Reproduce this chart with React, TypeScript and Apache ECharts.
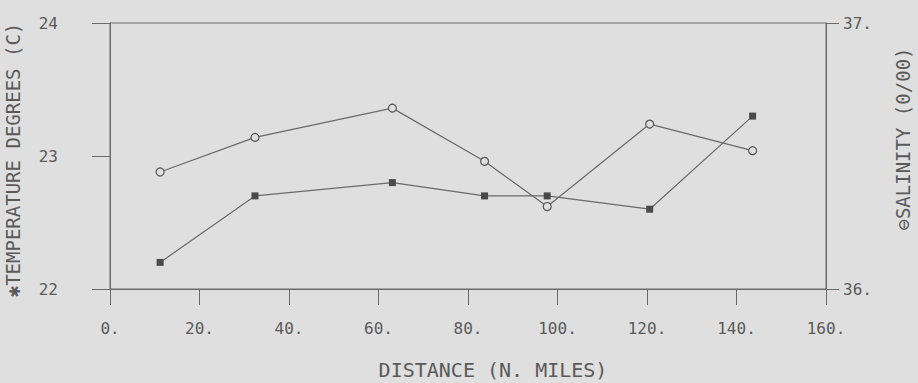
import React, { useEffect, useRef } from "react";
import * as echarts from "echarts";

const distance = [11.2, 32.4, 63.1, 83.7, 97.7, 120.6, 143.6];
const temperature = [22.2, 22.7, 22.8, 22.7, 22.7, 22.6, 23.3];
const salinity = [36.44, 36.57, 36.68, 36.48, 36.31, 36.62, 36.52];

const xTitle = "DISTANCE (N. MILES)";
const leftTitle = "✱TEMPERATURE DEGREES (C)";
const rightTitle = "⊖SALINITY (0/00)";

const FONT = "DejaVu Sans Mono";
const INK = "#5a5a5a";
const LINE = "#6a6a6a";
const BG = "#dfdfdf";

export default function App() {
  const ref = useRef<HTMLDivElement>(null);
  useEffect(() => {
    if (!ref.current) return;
    const chart = echarts.init(ref.current, undefined, { renderer: "svg" });
    const axisLabel = { fontFamily: FONT, fontSize: 16, color: INK };
    chart.setOption({
      animation: false,
      backgroundColor: BG,
      grid: {
        left: 110,
        right: 92,
        top: 23,
        bottom: 94,
        show: true,
        borderColor: LINE,
        borderWidth: 1,
        backgroundColor: "transparent",
      },
      xAxis: {
        type: "value",
        min: 0,
        max: 160,
        interval: 20,
        axisLine: { show: true, lineStyle: { color: LINE } },
        axisTick: { show: true, inside: false, length: 16, lineStyle: { color: LINE } },
        axisLabel: { ...axisLabel, margin: 31, formatter: (v: number) => `${v}.` },
        splitLine: { show: false },
      },
      yAxis: [
        {
          type: "value",
          position: "left",
          min: 22,
          max: 24,
          interval: 1,
          axisLine: { show: true, lineStyle: { color: LINE } },
          axisTick: { show: true, inside: false, length: 18, lineStyle: { color: LINE } },
          axisLabel: { ...axisLabel, margin: 52, formatter: (v: number) => `${v}`, padding: [0, 0, 8, 0] },
          splitLine: { show: false },
        },
        {
          type: "value",
          position: "right",
          min: 36,
          max: 37,
          interval: 1,
          axisLine: { show: true, lineStyle: { color: LINE } },
          axisTick: { show: true, inside: false, length: 13, lineStyle: { color: LINE } },
          axisLabel: { ...axisLabel, margin: 17, formatter: (v: number) => `${v}.`, padding: [0, 0, 4, 0] },
          splitLine: { show: false },
        },
      ],
      series: [
        {
          name: "Temperature",
          type: "line",
          yAxisIndex: 0,
          data: distance.map((d, i) => [d, temperature[i]]),
          symbol: "rect",
          symbolSize: 7,
          itemStyle: { color: "#4a4a4a" },
          lineStyle: { color: LINE, width: 1.2 },
        },
        {
          name: "Salinity",
          type: "line",
          yAxisIndex: 1,
          data: distance.map((d, i) => [d, salinity[i]]),
          symbol: "circle",
          symbolSize: 8,
          itemStyle: { color: BG, borderColor: "#555", borderWidth: 1.2 },
          lineStyle: { color: LINE, width: 1.2 },
        },
      ],
      graphic: [
        {
          type: "text",
          x: 493,
          y: 370,
          style: { text: xTitle, fontFamily: FONT, fontSize: 20, fill: INK, align: "center", verticalAlign: "middle" },
        },
        {
          type: "text",
          x: 13,
          y: 160,
          rotation: Math.PI / 2,
          style: { text: leftTitle, fontFamily: FONT, fontSize: 19, fill: INK, align: "center", verticalAlign: "middle" },
        },
        {
          type: "text",
          x: 903,
          y: 139,
          rotation: Math.PI / 2,
          style: { text: rightTitle, fontFamily: FONT, fontSize: 19, fill: INK, align: "center", verticalAlign: "middle" },
        },
      ],
    });
    return () => chart.dispose();
  }, []);
  return (
    <div
      ref={ref}
      style={{ position: "absolute", left: 0, top: 0, width: 918, height: 383 }}
    />
  );
}
